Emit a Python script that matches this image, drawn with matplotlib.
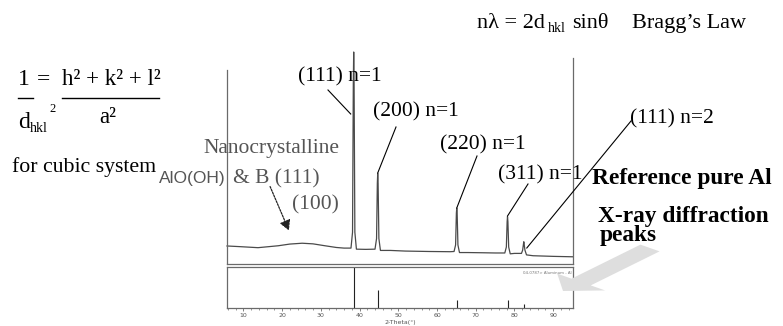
import matplotlib
matplotlib.use("Agg")
import matplotlib.pyplot as plt
from matplotlib.lines import Line2D
from matplotlib.patches import FancyArrow, FancyArrowPatch

# ---------------- data ----------------
# measured XRD trace (2-theta, relative intensity), read from the picture
trace_x = [5.8, 9.0, 13.8, 19.0, 22.0, 25.2, 28.0, 31.1, 34.0, 36.0, 37.8,
           38.2, 38.4, 38.5, 38.6, 38.8, 39.2, 41.6, 44.0, 44.4, 44.6, 44.7,
           44.8, 45.0, 45.4, 48.0, 51.8, 58.0, 63.4, 64.4, 64.8, 65.0, 65.1,
           65.2, 65.4, 65.8, 68.0, 71.9, 75.0, 77.5, 77.9, 78.1, 78.2, 78.3,
           78.5, 78.9, 80.0, 81.8, 82.1, 82.3, 82.4, 82.5, 82.7, 83.1, 84.8,
           90.0, 95.1]
trace_y = [8.5, 8.2, 7.7, 8.6, 9.4, 9.8, 9.5, 8.6, 7.8, 7.5, 7.5,
           15.0, 85.0, 100.0, 85.0, 15.0, 7.0, 6.9, 7.0, 12.0, 38.0, 42.8,
           38.0, 12.0, 6.4, 6.4, 6.1, 5.9, 5.8, 5.9, 9.0, 24.0, 26.4,
           24.0, 9.0, 5.4, 5.4, 5.3, 5.2, 5.2, 8.0, 20.0, 22.3, 20.0,
           8.0, 4.8, 5.0, 5.0, 6.5, 9.2, 10.5, 9.2, 6.5, 4.3, 3.9,
           3.6, 3.4]

# reference pure Al stick pattern
ref_pos = [38.5, 44.7, 65.1, 78.2, 82.4]
ref_int = [100, 42, 18, 19, 9]
ref_labels = ["(111) n=1", "(200) n=1", "(220) n=1", "(311) n=1", "(111) n=2"]

x_ticks = [10, 20, 30, 40, 50, 60, 70, 80, 90]
x_label = "2-Theta(°)"

# ---------------- layout helpers ----------------
W, H = 783, 326
def fx(x): return x / W
def fy(y): return 1 - y / H

SERIF = ["Liberation Serif", "DejaVu Serif"]
SANS = ["Liberation Sans", "DejaVu Sans"]

fig = plt.figure(figsize=(W / 100, H / 100), dpi=100)
fig.patch.set_facecolor("white")

axis_col = "#6a6a6a"
trace_col = "#4a4a4a"

# top panel (measured pattern)
ax = fig.add_axes([fx(227), fy(264), fx(573) - fx(227), fy(52) - fy(264)])
ax.set_xlim(5.8, 95.1)
ax.set_ylim(0, 100)
ax.plot(trace_x, trace_y, color=trace_col, lw=0.9, clip_on=False)
ax.spines["top"].set_visible(False)
for s in ["left", "right", "bottom"]:
    ax.spines[s].set_color(axis_col)
    ax.spines[s].set_linewidth(0.9)
ax.spines["left"].set_bounds(0, 91.5)
ax.spines["right"].set_bounds(0, 97.2)
ax.set_xticks([])
ax.set_yticks([])
ax.patch.set_alpha(0)

# bottom panel (reference sticks)
axb = fig.add_axes([fx(227), fy(307.5), fx(573) - fx(227), fy(267) - fy(307.5)])
axb.set_xlim(5.8, 95.1)
axb.set_ylim(0, 100)
axb.vlines(ref_pos, 0, ref_int, color="#222222", lw=0.8)
for s in axb.spines.values():
    s.set_color(axis_col)
    s.set_linewidth(0.9)
axb.set_yticks([])
axb.set_xticks(x_ticks)
axb.set_xticks(list(range(6, 96, 2)), minor=True)
axb.tick_params(axis="x", which="major", direction="out", length=2.2, width=0.6,
                color=axis_col, labelsize=4.5, labelcolor="#555555", pad=1.5)
axb.tick_params(axis="x", which="minor", direction="out", length=1.2, width=0.5,
                color=axis_col)
axb.set_xlabel(x_label, fontsize=4.5, color="#555555", labelpad=1.5)
axb.text(0.995, 0.9, "04-0787> Aluminum - Al", transform=axb.transAxes,
         ha="right", va="top", fontsize=2.8, color="#777777")

# ---------------- peak labels ----------------
label_pos = [(298, 81), (373, 116), (440, 149), (498, 179), (630, 123)]
line_start = [(328, 90), (396, 127), (477, 156), (528, 184), (631, 121)]
line_end_y = [114, 173, 208, 216, 248]
for lab, (tx, ty), (sx, sy), ey, xp in zip(ref_labels, label_pos, line_start,
                                           line_end_y, ref_pos):
    fig.text(fx(tx), fy(ty), lab, family=SERIF, fontsize=15.5, color="black",
             ha="left", va="baseline")
    ex = ax.transData.transform((xp, 0))[0]
    if lab == "(111) n=1":
        ex -= 3
    if lab == "(111) n=2":
        ex += 3
    fig.add_artist(Line2D([fx(sx), fx(ex)], [fy(sy), fy(ey)],
                          transform=fig.transFigure, color="black", lw=0.8))

# ---------------- other texts ----------------
# Bragg's law
fig.text(fx(477), fy(28), "nλ = 2d", family=SERIF, fontsize=16, ha="left", va="baseline")
fig.text(fx(548), fy(32), "hkl", family=SERIF, fontsize=10, ha="left", va="baseline")
fig.text(fx(572), fy(28), "sinθ", family=SERIF, fontsize=16, ha="left", va="baseline")
fig.text(fx(632), fy(28), "Bragg’s Law", family=SERIF, fontsize=16, ha="left", va="baseline")

# cubic formula
fig.text(fx(18), fy(85), "1", family=SERIF, fontsize=17, ha="left", va="baseline")
fig.text(fx(37), fy(85), "=", family=SERIF, fontsize=17, ha="left", va="baseline")
fig.text(fx(62), fy(85), "h² + k² + l²", family=SERIF, fontsize=16.5, ha="left", va="baseline")
fig.add_artist(Line2D([fx(18), fx(33)], [fy(98), fy(98)], transform=fig.transFigure,
                      color="black", lw=1.0))
fig.add_artist(Line2D([fx(62), fx(159)], [fy(98), fy(98)], transform=fig.transFigure,
                      color="black", lw=1.0))
fig.text(fx(18), fy(128), "d", family=SERIF, fontsize=17, ha="left", va="baseline")
fig.text(fx(30), fy(132), "hkl", family=SERIF, fontsize=10, ha="left", va="baseline")
fig.text(fx(49), fy(112), "2", family=SERIF, fontsize=9, ha="left", va="baseline")
fig.text(fx(99), fy(123), "a²", family=SERIF, fontsize=16.5, ha="left", va="baseline")

fig.text(fx(12), fy(172), "for cubic system", family=SERIF, fontsize=15.7,
         ha="left", va="baseline")

grey = "#555555"
fig.text(fx(203), fy(153), "Nanocrystalline", family=SERIF, fontsize=15.5,
         color=grey, ha="left", va="baseline")
fig.text(fx(159), fy(183), "AlO(OH)", family=SANS, fontsize=12.5, color=grey,
         ha="left", va="baseline")
fig.text(fx(233), fy(183), "& B (111)", family=SERIF, fontsize=15.5, color=grey,
         ha="left", va="baseline")
fig.text(fx(292), fy(209), "(100)", family=SERIF, fontsize=15.5, color=grey,
         ha="left", va="baseline")

# dotted arrow to the broad hump
fig.add_artist(FancyArrowPatch(
    (fx(269), fy(184)), (fx(290), fy(233)), transform=fig.transFigure,
    arrowstyle="-|>,head_length=4,head_width=2.2", linestyle=(0, (1.5, 1)),
    color="#222222", lw=0.9, mutation_scale=1.5))

# reference description
fig.text(fx(592), fy(184), "Reference pure Al", family=SERIF, fontsize=16.8,
         weight="bold", ha="left", va="baseline")
fig.text(fx(598), fy(222), "X-ray diffraction", family=SERIF, fontsize=16.8,
         weight="bold", ha="left", va="baseline")
fig.text(fx(600), fy(241), "peaks", family=SERIF, fontsize=16.8,
         weight="bold", ha="left", va="baseline")

# light grey block arrow
fig.add_artist(FancyArrow(fx(650), fy(248), fx(563) - fx(650), fy(291) - fy(248),
                          width=0.032, head_width=0.08, head_length=0.036,
                          length_includes_head=True, transform=fig.transFigure,
                          color="#dedede", lw=0))

fig.savefig("out.png", dpi=100)
